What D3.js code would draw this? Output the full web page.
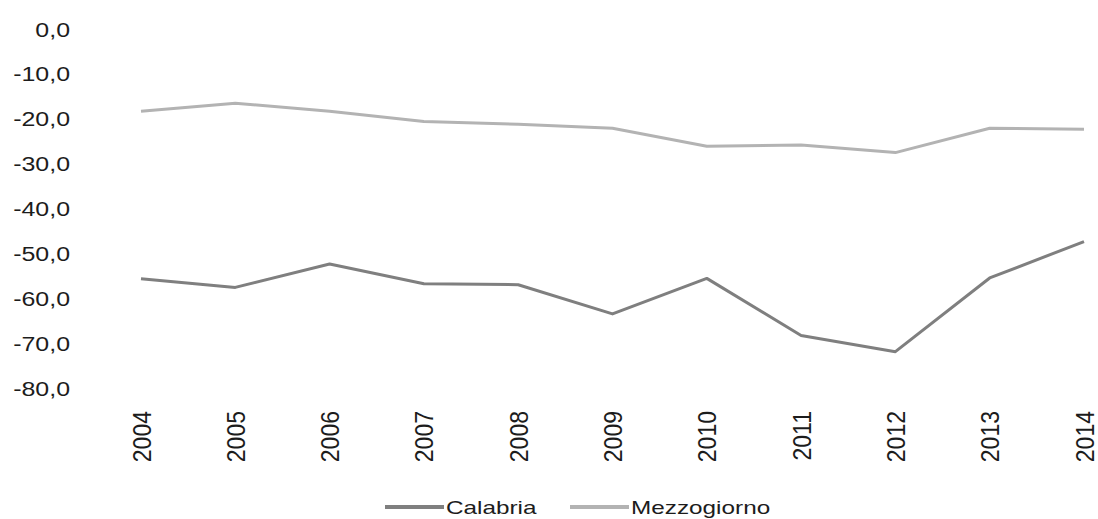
<!DOCTYPE html>
<html>
<head>
<meta charset="utf-8">
<script src="https://cdn.jsdelivr.net/npm/d3@7"></script>
<style>
  html, body { margin: 0; padding: 0; background: #fff; }
  svg { display: block; font-family: "Liberation Sans", Arial, sans-serif; }
</style>
</head>
<body>
<svg id="chart" width="1098" height="519"></svg>
<script>
const years = ["2004","2005","2006","2007","2008","2009","2010","2011","2012","2013","2014"];
const calabria = [-55.6, -57.5, -52.3, -56.7, -56.9, -63.4, -55.5, -68.2, -71.8, -55.4, -47.3];
const mezzogiorno = [-18.3, -16.5, -18.3, -20.6, -21.2, -22.1, -26.1, -25.8, -27.5, -22.1, -22.3];
const yTicks = [0, -10, -20, -30, -40, -50, -60, -70, -80];
const seriesNames = ["Calabria", "Mezzogiorno"];
const seriesColors = ["#7f7f7f", "#b3b3b3"];

const FONT = "'Liberation Sans', Arial, sans-serif";
const FS = 19.5;
const STRETCH = 1.28;
const TEXT_COLOR = "#1c1c1c";

const svg = d3.select("#chart");
const locale = d3.formatLocale({decimal: ",", thousands: ".", grouping: [3], currency: ["", "€"], minus: "-"});
const fmt = locale.format(".1f");

const x = d3.scalePoint().domain(years).range([141, 1084]);
const y = d3.scaleLinear().domain([-80, 0]).range([388.5, 29]);

// Y axis (labels only)
const yAxis = svg.append("g").attr("transform", "translate(70,0)")
  .call(d3.axisLeft(y).tickValues(yTicks).tickFormat(fmt).tickSize(0).tickPadding(0));
yAxis.select(".domain").remove();
yAxis.selectAll("text")
  .attr("x", 0).attr("dy", "0.36em")
  .attr("font-size", FS).attr("fill", TEXT_COLOR).attr("font-family", FONT)
  .attr("transform", `scale(${STRETCH},1)`);

// X axis (rotated year labels)
const xAxis = svg.append("g").attr("transform", "translate(0,411)")
  .call(d3.axisBottom(x).tickSize(0).tickPadding(0));
xAxis.select(".domain").remove();
xAxis.selectAll("text")
  .attr("font-size", FS).attr("fill", TEXT_COLOR).attr("font-family", FONT)
  .attr("text-anchor", "end")
  .attr("x", 0).attr("y", 0).attr("dy", "0.36em")
  .attr("transform", `scale(${STRETCH},1) rotate(-90) scale(1.18,1)`);

// Lines
const line = d3.line().x((d, i) => x(years[i])).y(d => y(d));
const seriesList = [
  {values: mezzogiorno, color: seriesColors[1]},
  {values: calabria, color: seriesColors[0]}
];
svg.append("g").selectAll("path").data(seriesList).join("path")
  .attr("d", d => line(d.values))
  .attr("fill", "none")
  .attr("stroke", d => d.color)
  .attr("stroke-width", 3)
  .attr("stroke-linejoin", "round");

// Legend
const legendItems = [
  {name: seriesNames[0], color: seriesColors[0], x0: 385, x1: 444},
  {name: seriesNames[1], color: seriesColors[1], x0: 570, x1: 629}
];
const lg = svg.append("g").attr("transform", "translate(0,507)");
legendItems.forEach(it => {
  lg.append("line").attr("x1", it.x0).attr("x2", it.x1).attr("y1", 0).attr("y2", 0)
    .attr("stroke", it.color).attr("stroke-width", 4);
  lg.append("g").attr("transform", `translate(${it.x1 + 2},0) scale(${STRETCH},1)`)
    .append("text").attr("x", 0).attr("y", 0).attr("dy", "0.36em")
    .attr("font-size", 19).attr("font-family", FONT).attr("fill", TEXT_COLOR)
    .text(it.name);
});
</script>
</body>
</html>
